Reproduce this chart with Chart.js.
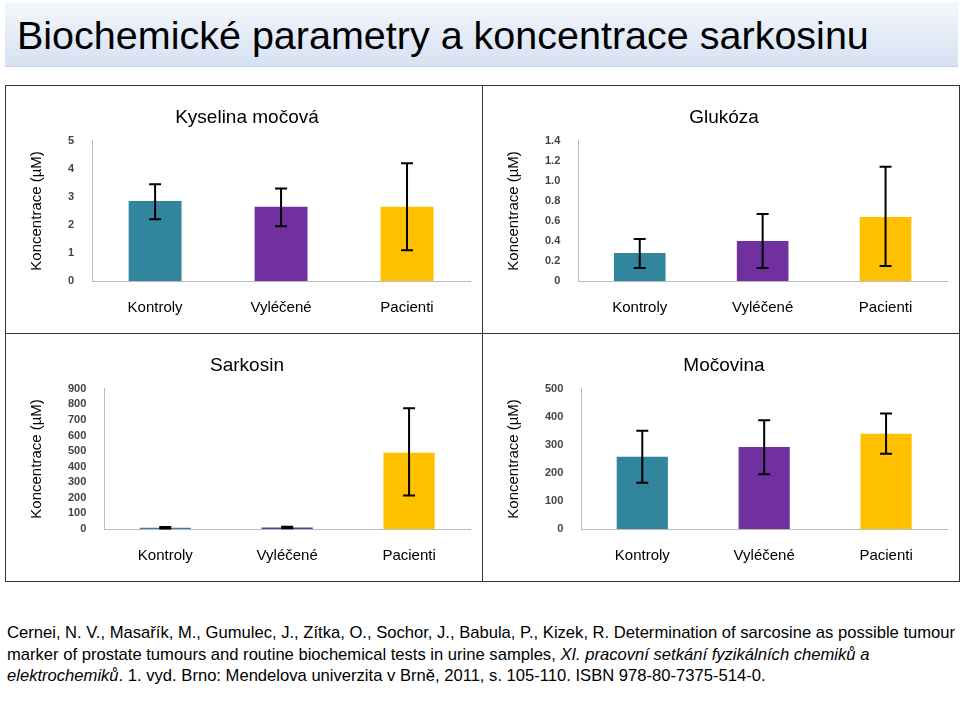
<!DOCTYPE html>
<html><head><meta charset="utf-8">
<script src="https://cdn.jsdelivr.net/npm/chart.js@4.4.0/dist/chart.umd.min.js"></script>
<style>
body{margin:0;width:960px;height:706px;background:#fff;font-family:"Liberation Sans",Arial,sans-serif;position:relative;overflow:hidden}
#head{position:absolute;left:5px;top:2px;width:953px;height:64px;background:linear-gradient(#f4f7fc,#d6e1f2);border-bottom:1px solid #c6d3ea}
#head h1{margin:0;padding:11px 0 0 12px;font-weight:normal;font-size:39.5px;color:#000}
.box{position:absolute;border:1px solid #333;width:476px;height:247px}
#cite{position:absolute;left:7px;top:622px;width:950px;font-size:16.6px;line-height:21.5px;color:#000}
</style></head><body>
<div id="head"><h1>Biochemické parametry a koncentrace sarkosinu</h1></div>
<div class="box" style="left:5px;top:85px"><canvas id="c1" width="476" height="247"></canvas></div>
<div class="box" style="left:482px;top:85px"><canvas id="c2" width="476" height="247"></canvas></div>
<div class="box" style="left:5px;top:333px"><canvas id="c3" width="476" height="247"></canvas></div>
<div class="box" style="left:482px;top:333px"><canvas id="c4" width="476" height="247"></canvas></div>
<div id="cite">Cernei, N. V., Masařík, M., Gumulec, J., Zítka, O., Sochor, J., Babula, P., Kizek, R. Determination of sarcosine as possible tumour marker of prostate tumours and routine biochemical tests in urine samples, <i>XI. pracovní setkání fyzikálních chemiků a elektrochemiků</i>. 1. vyd. Brno: Mendelova univerzita v Brně, 2011, s. 105-110. ISBN 978-80-7375-514-0.</div>
<script>
const categories = ['Kontroly', 'Vyléčené', 'Pacienti'];
const colors = ['#31859c', '#7030a0', '#ffc000'];

const kyselinaValues = [2.85, 2.65, 2.65];
const kyselinaLow = [2.2, 1.95, 1.1];
const kyselinaHigh = [3.45, 3.3, 4.2];

const glukozaValues = [0.28, 0.40, 0.64];
const glukozaLow = [0.13, 0.13, 0.15];
const glukozaHigh = [0.42, 0.67, 1.14];

const sarkosinValues = [8, 10, 490];
const sarkosinLow = [3, 5, 215];
const sarkosinHigh = [13, 15, 775];

const mocovinaValues = [258, 292, 340];
const mocovinaLow = [165, 195, 268];
const mocovinaHigh = [350, 388, 412];

// chybove useky
const errorBars = {
    id: 'errorBars',
    afterDatasetsDraw(chart) {
        const ctx = chart.ctx;
        const y = chart.scales.y;
        const meta = chart.getDatasetMeta(0);
        const { low, high } = chart.options.plugins.errorBars;
        ctx.save();
        ctx.strokeStyle = '#000';
        ctx.lineWidth = 2;
        meta.data.forEach((bar, i) => {
            const yl = y.getPixelForValue(low[i]);
            const yh = y.getPixelForValue(high[i]);
            ctx.beginPath();
            ctx.moveTo(bar.x, yl); ctx.lineTo(bar.x, yh);
            ctx.moveTo(bar.x - 6, yl); ctx.lineTo(bar.x + 6, yl);
            ctx.moveTo(bar.x - 6, yh); ctx.lineTo(bar.x + 6, yh);
            ctx.stroke();
        });
        ctx.restore();
    }
};

function makeChart(id, title, values, low, high, max, step) {
    new Chart(document.getElementById(id), {
        type: 'bar',
        data: {
            labels: categories,
            datasets: [{ data: values, backgroundColor: colors, barPercentage: 0.42, categoryPercentage: 1 }]
        },
        options: {
            responsive: false,
            animation: false,
            layout: { padding: { left: 18, right: 12, top: 4, bottom: 6 } },
            plugins: {
                legend: { display: false },
                tooltip: { enabled: false },
                title: { display: true, text: title, color: '#000', font: { size: 19, weight: 'normal', family: 'Liberation Sans' }, padding: { top: 16, bottom: 12 } },
                errorBars: { low, high }
            },
            scales: {
                x: {
                    grid: { display: false },
                    border: { color: '#bbb' },
                    ticks: { color: '#000', font: { size: 15, family: 'Liberation Sans' }, padding: 10 }
                },
                y: {
                    min: 0, max: max,
                    grid: { display: false },
                    border: { color: '#bbb' },
                    ticks: { stepSize: step, autoSkip: false, padding: 10, color: '#444', font: { size: 11, weight: 'bold', family: 'Liberation Sans' } },
                    title: { display: true, text: 'Koncentrace (µM)', color: '#000', padding: { bottom: 12 }, font: { size: 15, family: 'Liberation Sans' } }
                }
            }
        },
        plugins: [errorBars]
    });
}

makeChart('c1', 'Kyselina močová', kyselinaValues, kyselinaLow, kyselinaHigh, 5, 1);
makeChart('c2', 'Glukóza', glukozaValues, glukozaLow, glukozaHigh, 1.4, 0.2);
makeChart('c3', 'Sarkosin', sarkosinValues, sarkosinLow, sarkosinHigh, 900, 100);
makeChart('c4', 'Močovina', mocovinaValues, mocovinaLow, mocovinaHigh, 500, 100);
</script>
</body></html>
